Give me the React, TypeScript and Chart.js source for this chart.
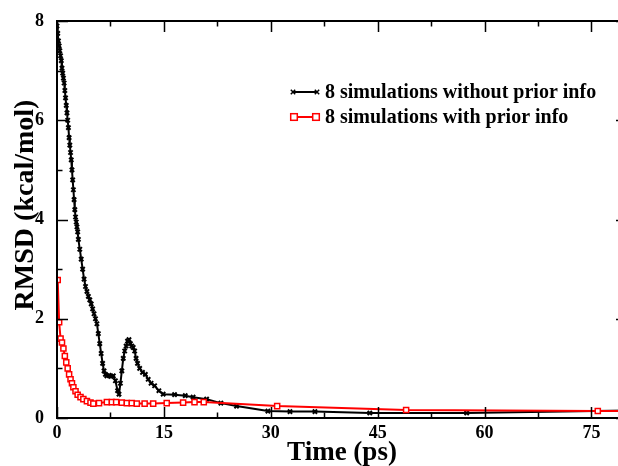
import React, { useEffect, useRef } from "react";
import { Chart, registerables } from "chart.js";

Chart.register(...registerables);

// ---- data ----
const withoutPriorTime = [
  0, 0.1, 0.2, 0.3, 0.4, 0.5, 0.6, 0.7, 0.8, 0.9, 1.0, 1.1, 1.2, 1.3, 1.4, 1.5, 1.6, 1.7, 1.8, 1.9,
  2.0, 2.1, 2.2, 2.3, 2.4, 2.5, 2.6, 2.7, 2.8, 2.9, 3.0, 3.2, 3.4, 3.6, 3.8, 4.0, 4.2, 4.4, 4.6, 4.8,
  5.0, 5.2, 5.4, 5.6, 5.8, 6.0, 6.2, 6.4, 6.6, 6.8, 7.0, 7.3, 7.6, 7.9, 8.2, 8.5, 8.7, 8.9, 9.1, 9.3,
  9.5, 9.7, 9.9, 10.1, 10.3, 10.5, 10.7, 10.9, 11.1, 11.3, 11.6, 12.0, 12.4, 12.8, 13.2, 13.7, 14.3, 14.9,
  16.5, 18.0, 19.1, 21.0, 23.0, 25.2, 29.6, 32.7, 36.2, 43.9, 57.5, 80,
];
const withoutPriorRmsd = [
  7.9, 7.75, 7.6, 7.5, 7.4, 7.3, 7.2, 7.05, 6.95, 6.85, 6.75, 6.6, 6.45, 6.3, 6.15, 6.0, 5.85, 5.65, 5.5, 5.35,
  5.2, 5.0, 4.8, 4.6, 4.4, 4.2, 4.05, 3.95, 3.85, 3.75, 3.6, 3.4, 3.2, 3.0, 2.8, 2.65, 2.55, 2.45, 2.38, 2.3,
  2.2, 2.1, 2.0, 1.9, 1.7, 1.5, 1.3, 1.1, 0.95, 0.88, 0.85, 0.86, 0.84, 0.85, 0.75, 0.55, 0.48, 0.7, 0.95, 1.2,
  1.35, 1.45, 1.55, 1.58, 1.5, 1.45, 1.42, 1.35, 1.2, 1.1, 1.0, 0.92, 0.88, 0.78, 0.7, 0.65, 0.55, 0.48,
  0.47, 0.45, 0.42, 0.38, 0.3, 0.24, 0.14, 0.13, 0.13, 0.1, 0.1, 0.15,
];

const withPriorTime = [
  0.1, 0.3, 0.5, 0.7, 0.9, 1.1, 1.3, 1.5, 1.7, 1.9, 2.1, 2.3, 2.6, 2.9, 3.3, 3.7, 4.2, 4.7, 5.1, 5.9,
  7.0, 7.7, 8.3, 9.1, 9.8, 10.5, 11.2, 12.3, 13.5, 15.4, 17.7, 19.3, 20.6, 30.9, 49.0, 75.9, 82,
];
const withPriorRmsd = [
  2.78, 1.93, 1.6, 1.52, 1.4, 1.25, 1.12, 1.0, 0.88, 0.78, 0.7, 0.62, 0.54, 0.47, 0.42, 0.38, 0.34, 0.31, 0.29, 0.3,
  0.32, 0.32, 0.32, 0.31, 0.3, 0.3, 0.29, 0.29, 0.29, 0.3, 0.31, 0.32, 0.32, 0.24, 0.16, 0.14, 0.14,
];

const seriesLabels = ["8 simulations without prior info", "8 simulations with prior info"];
const seriesColors = ["#000000", "#ff0000"];
const xTitle = "Time (ps)";
const yTitle = "RMSD (kcal/mol)";
const xMin = 0, xMax = 80, xStep = 15;
const yMin = 0, yMax = 8, yStep = 2;

const FONT = "'Liberation Serif', 'Times New Roman', serif";

function drawCross(ctx: CanvasRenderingContext2D, x: number, y: number, r: number) {
  ctx.beginPath();
  ctx.moveTo(x - r, y - r); ctx.lineTo(x + r, y + r);
  ctx.moveTo(x - r, y + r); ctx.lineTo(x + r, y - r);
  ctx.stroke();
}
function drawSquare(ctx: CanvasRenderingContext2D, x: number, y: number, r: number) {
  ctx.fillStyle = "#fff";
  ctx.fillRect(x - r, y - r, 2 * r, 2 * r);
  ctx.strokeRect(x - r, y - r, 2 * r, 2 * r);
}

const decorPlugin = {
  id: "decor",
  afterDraw(chart: any) {
    const { ctx, chartArea } = chart;
    const { left, right, top, bottom } = chartArea;
    const xs = chart.scales.x, ys = chart.scales.y;
    ctx.save();
    ctx.strokeStyle = "#000";
    ctx.lineWidth = 2;
    ctx.strokeRect(left, top, right - left, bottom - top);
    ctx.lineWidth = 1.5;
    const major = 11, minor = 5.5;
    ctx.beginPath();
    xs.ticks.forEach((t: any) => {
      const vals = [[t.value, major], [t.value + xStep / 2, minor]];
      vals.forEach(([v, len]) => {
        if (v > xMax) return;
        const p = Math.round(xs.getPixelForValue(v)) + 0.5;
        ctx.moveTo(p, bottom); ctx.lineTo(p, bottom - len);
        ctx.moveTo(p, top); ctx.lineTo(p, top + len);
      });
    });
    ys.ticks.forEach((t: any) => {
      const vals = [[t.value, major], [t.value + yStep / 2, minor]];
      vals.forEach(([v, len]) => {
        if (v > yMax) return;
        const p = Math.round(ys.getPixelForValue(v)) + 0.5;
        ctx.moveTo(left, p); ctx.lineTo(left + len, p);
        ctx.moveTo(right, p); ctx.lineTo(right - len, p);
      });
    });
    ctx.stroke();

    // axis titles
    ctx.fillStyle = "#000";
    ctx.font = `bold 27px ${FONT}`;
    ctx.textAlign = "center";
    ctx.textBaseline = "alphabetic";
    ctx.fillText(xTitle, (left + right) / 2, 460);
    ctx.save();
    ctx.translate(33, 205);
    ctx.rotate(-Math.PI / 2);
    ctx.font = `bold 28px ${FONT}`;
    ctx.fillText(yTitle, 0, 0);
    ctx.restore();

    // legend
    ctx.font = `bold 20px ${FONT}`;
    ctx.textAlign = "left";
    const rows = [92, 117];
    rows.forEach((ly, i) => {
      ctx.strokeStyle = seriesColors[i];
      ctx.lineWidth = 2;
      ctx.beginPath();
      ctx.moveTo(293, ly); ctx.lineTo(317, ly);
      ctx.stroke();
      ctx.lineWidth = 1.5;
      if (i === 0) { drawCross(ctx, 293, ly, 2.2); drawCross(ctx, 317, ly, 2.2); }
      else { drawSquare(ctx, 294, ly, 3.3); drawSquare(ctx, 316, ly, 3.3); }
      ctx.fillStyle = "#000";
      ctx.fillText(seriesLabels[i], 325, ly + 6);
    });
    ctx.restore();
  },
};

export default function App() {
  const ref = useRef<HTMLCanvasElement>(null);
  useEffect(() => {
    if (!ref.current) return;
    const chart = new Chart(ref.current, {
      type: "scatter",
      data: {
        datasets: [
          {
            label: seriesLabels[0],
            data: withoutPriorTime.map((t, i) => ({ x: t, y: withoutPriorRmsd[i] })),
            showLine: true,
            borderColor: seriesColors[0],
            borderWidth: 2,
            pointStyle: "crossRot",
            pointRadius: 3,
            pointBorderWidth: 2,
            pointBorderColor: seriesColors[0],
            pointBackgroundColor: seriesColors[0],
            order: 2,
          },
          {
            label: seriesLabels[1],
            data: withPriorTime.map((t, i) => ({ x: t, y: withPriorRmsd[i] })),
            showLine: true,
            borderColor: seriesColors[1],
            borderWidth: 2,
            pointStyle: "rect",
            pointRadius: 3.6,
            pointBorderWidth: 1.5,
            pointBorderColor: seriesColors[1],
            pointBackgroundColor: "#ffffff",
            order: 1,
          },
        ],
      },
      options: {
        responsive: false,
        animation: false,
        layout: { padding: { top: 21, right: 13, left: 0, bottom: 0 } },
        plugins: { legend: { display: false }, tooltip: { enabled: false } },
        scales: {
          x: {
            type: "linear",
            min: xMin,
            max: xMax,
            grid: { display: false },
            border: { display: false },
            ticks: {
              stepSize: xStep,
              includeBounds: false,
              padding: -3,
              color: "#000",
              maxRotation: 0,
              font: { family: FONT, size: 18, weight: "bold" },
            },
            afterFit: (s: any) => { s.height = 48; },
          },
          y: {
            type: "linear",
            min: yMin,
            max: yMax,
            grid: { display: false },
            border: { display: false },
            ticks: {
              stepSize: yStep,
              includeBounds: false,
              padding: 5,
              color: "#000",
              font: { family: FONT, size: 18, weight: "bold" },
            },
            afterFit: (s: any) => { s.width = 57; },
          },
        },
      },
      plugins: [decorPlugin],
    } as any);
    return () => chart.destroy();
  }, []);
  return (
    <div style={{ position: "fixed", left: 0, top: 0, width: 618, height: 466, overflow: "hidden", background: "#fff" }}>
      <canvas ref={ref} width={640} height={466} style={{ display: "block" }} />
    </div>
  );
}
